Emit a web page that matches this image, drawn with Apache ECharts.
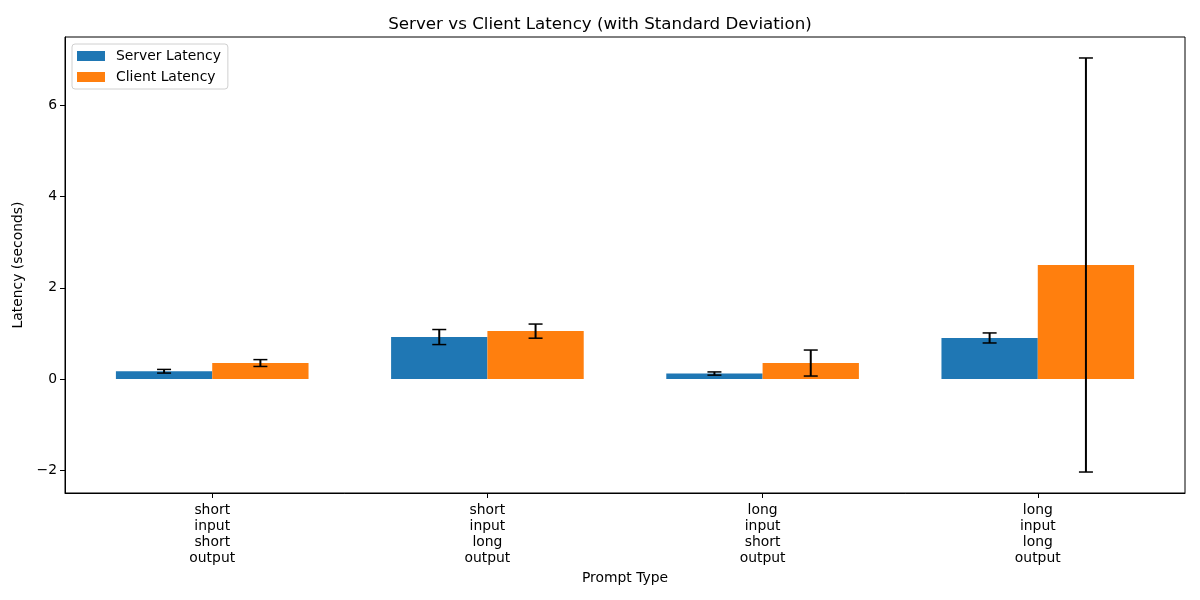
<!DOCTYPE html>
<html>
<head>
<meta charset="utf-8">
<script src="https://cdn.jsdelivr.net/npm/echarts@6/dist/echarts.min.js"></script>
<style>
html,body{margin:0;padding:0;background:#fff;}
#main{width:1200px;height:600px;}
</style>
</head>
<body>
<div id="main"></div>
<script>
// ---- data ----
var categories = ["short\ninput\nshort\noutput", "short\ninput\nlong\noutput", "long\ninput\nshort\noutput", "long\ninput\nlong\noutput"];
var serverLatency = [0.17, 0.92, 0.12, 0.90];
var serverStd = [0.04, 0.165, 0.035, 0.11];
var clientLatency = [0.35, 1.05, 0.35, 2.50];
var clientStd = [0.075, 0.155, 0.285, 4.54];
var yTicks = [-2, 0, 2, 4, 6];
var xTicks = [0, 1, 2, 3];

// ---- chart ----
var FONT = 'DejaVu Sans';
var BAR_W = 0.35;
var chart = echarts.init(document.getElementById('main'), null, {renderer: 'canvas'});

function barRender(offset, color) {
  return function (params, api) {
    var idx = api.value(0);
    var val = api.value(1);
    var x = idx + offset;
    var p0 = api.coord([x - BAR_W / 2, val]);
    var p1 = api.coord([x + BAR_W / 2, 0]);
    return {
      type: 'rect',
      shape: {x: p0[0], y: Math.min(p0[1], p1[1]), width: p1[0] - p0[0], height: Math.abs(p1[1] - p0[1])},
      style: {fill: color}
    };
  };
}
function errRender(offset) {
  return function (params, api) {
    var idx = api.value(0);
    var val = api.value(1);
    var sd = api.value(2);
    var x = idx + offset;
    var top = api.coord([x, val + sd]);
    var bot = api.coord([x, val - sd]);
    var cap = 7;
    return {
      type: 'group',
      children: [
        {type: 'line', shape: {x1: top[0], y1: top[1], x2: bot[0], y2: bot[1]}, style: {stroke: '#000', lineWidth: 2}},
        {type: 'line', shape: {x1: top[0] - cap, y1: top[1], x2: top[0] + cap, y2: top[1]}, style: {stroke: '#000', lineWidth: 1.5}},
        {type: 'line', shape: {x1: bot[0] - cap, y1: bot[1], x2: bot[0] + cap, y2: bot[1]}, style: {stroke: '#000', lineWidth: 1.5}}
      ]
    };
  };
}

var serverData = serverLatency.map(function (v, i) { return [i, v, serverStd[i]]; });
var clientData = clientLatency.map(function (v, i) { return [i, v, clientStd[i]]; });

var option = {
  animation: false,
  backgroundColor: '#fff',
  textStyle: {fontFamily: FONT, color: '#000'},
  title: {
    text: 'Server vs Client Latency (with Standard Deviation)',
    left: 'center', top: 11,
    textStyle: {fontFamily: FONT, fontSize: 16.7, fontWeight: 'normal', color: '#000'}
  },
  legend: {
    orient: 'vertical',
    left: 72, top: 44,
    padding: [5, 7, 5, 5],
    itemGap: 7,
    itemWidth: 28, itemHeight: 10,
    itemStyle: {borderWidth: 0},
    textStyle: {fontFamily: FONT, fontSize: 13.9, color: '#000', padding: [0, 0, 0, 6]},
    borderColor: '#d0d0d0', borderWidth: 1, borderRadius: 3,
    backgroundColor: 'rgba(255,255,255,0.8)',
    data: [
      {name: 'Server Latency', icon: 'rect', itemStyle: {color: '#1f77b4'}},
      {name: 'Client Latency', icon: 'rect', itemStyle: {color: '#ff7f0e'}}
    ]
  },
  grid: {
    left: 65, right: 15, top: 37, bottom: 107,
    show: true, borderColor: '#000', borderWidth: 1, backgroundColor: 'transparent'
  },
  xAxis: {
    type: 'value', min: -0.535, max: 3.535,
    name: 'Prompt Type', nameLocation: 'middle', nameGap: 77,
    nameTextStyle: {fontFamily: FONT, fontSize: 13.9, color: '#000'},
    axisLine: {show: true, onZero: false, lineStyle: {color: '#000', width: 1}},
    axisTick: {show: true, length: 5, lineStyle: {color: '#000', width: 1}, customValues: xTicks},
    axisLabel: {
      customValues: xTicks, margin: 9, lineHeight: 16,
      fontFamily: FONT, fontSize: 13.9, color: '#000',
      formatter: function (v) { return categories[Math.round(v)]; }
    },
    splitLine: {show: false}
  },
  yAxis: {
    type: 'value', min: -2.5, max: 7.5,
    name: 'Latency (seconds)', nameLocation: 'middle', nameGap: 33,
    nameTextStyle: {fontFamily: FONT, fontSize: 13.9, color: '#000'},
    axisLine: {show: true, onZero: false, lineStyle: {color: '#000', width: 1}},
    axisTick: {show: true, length: 5, lineStyle: {color: '#000', width: 1}, customValues: yTicks},
    axisLabel: {
      customValues: yTicks, margin: 8, padding: [3, 0, 0, 0],
      fontFamily: FONT, fontSize: 13.9, color: '#000',
      formatter: function (v) { return v < 0 ? '\u2212' + Math.abs(v) : String(v); }
    },
    splitLine: {show: false}
  },
  series: [
    {name: 'Server Latency', type: 'custom', renderItem: barRender(-BAR_W / 2, '#1f77b4'), itemStyle: {color: '#1f77b4'}, data: serverData, encode: {x: 0, y: 1}, z: 2},
    {name: 'Client Latency', type: 'custom', renderItem: barRender(BAR_W / 2, '#ff7f0e'), itemStyle: {color: '#ff7f0e'}, data: clientData, encode: {x: 0, y: 1}, z: 2},
    {name: 'Server Err', type: 'custom', renderItem: errRender(-BAR_W / 2), data: serverData, encode: {x: 0, y: 1}, z: 3},
    {name: 'Client Err', type: 'custom', renderItem: errRender(BAR_W / 2), data: clientData, encode: {x: 0, y: 1}, z: 3}
  ]
};
chart.setOption(option);
</script>
</body>
</html>
